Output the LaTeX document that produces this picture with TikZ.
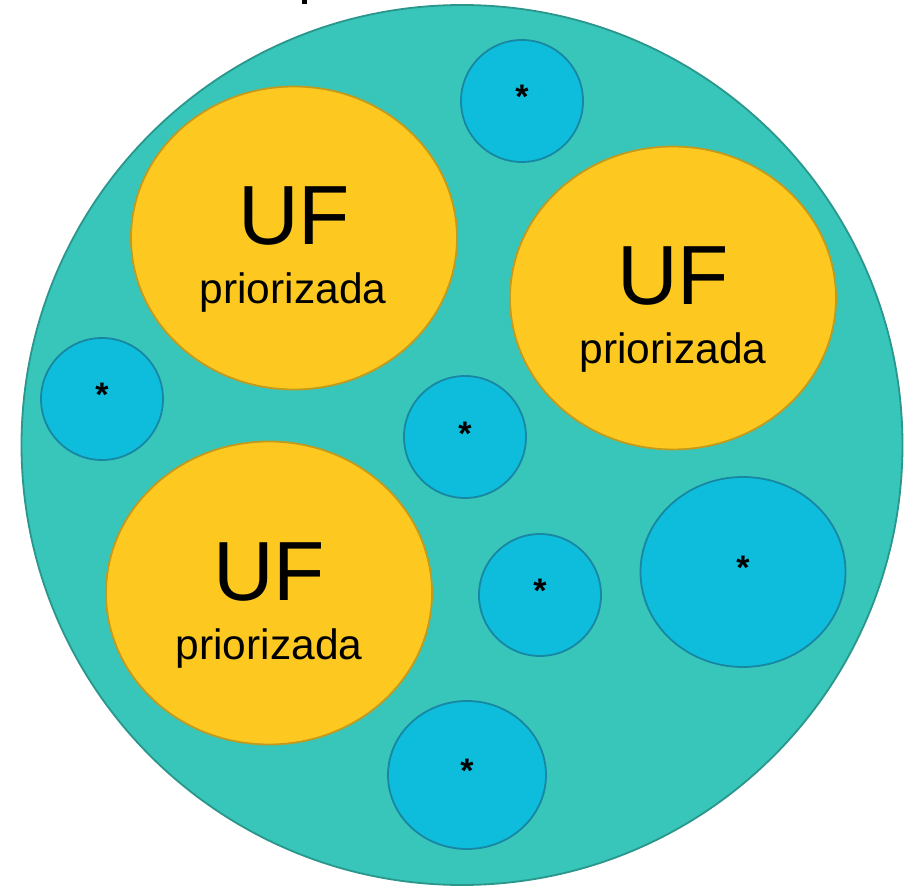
\documentclass[tikz,border=0pt]{standalone}
\usepackage{fontspec}
\setmainfont{Liberation Sans}
\usetikzlibrary{shapes.geometric}
\definecolor{tealfill}{HTML}{37C6B9}
\definecolor{tealline}{HTML}{2A968C}
\definecolor{ufill}{HTML}{FDC920}
\definecolor{uline}{HTML}{C29A1E}
\definecolor{bfill}{HTML}{0EBDDB}
\definecolor{bline}{HTML}{1787A3}
\tikzset{
  outer/.style={ellipse, fill=tealfill, draw=tealline, line width=1.8pt, inner sep=0pt},
  ufbox/.style={ellipse, fill=ufill, draw=uline, line width=1.8pt, inner sep=0pt, minimum width=326pt, minimum height=303pt},
  blob/.style={ellipse, fill=bfill, draw=bline, line width=1.8pt, inner sep=0pt},
  bigtxt/.style={anchor=base, inner sep=0pt, font=\fontsize{84}{84}\selectfont},
  smalltxt/.style={anchor=base, inner sep=0pt, font=\fontsize{42.5}{42.5}\selectfont},
  star/.style={inner sep=0pt, font=\fontsize{34}{34}\selectfont\bfseries}
}
\begin{document}
\begin{tikzpicture}[x=1pt,y=-1pt]
\useasboundingbox (0,0) rectangle (911,890);
\fill[black] (302,0) rectangle (307,4);
\node[outer, minimum width=881pt, minimum height=880pt] (big) at (462,445) {};
% yellow
\node[ufbox] (u1) at (294,238) {};
\node[ufbox] (u2) at (673,298) {};
\node[ufbox] (u3) at (269,593) {};
\node[bigtxt] (u1a) at (294,245) {UF};
\node[smalltxt] (u1b) at (293,304) {priorizada};
\node[bigtxt] (u2a) at (673,305) {UF};
\node[smalltxt] (u2b) at (673,364) {priorizada};
\node[bigtxt] (u3a) at (269,600) {UF};
\node[smalltxt] (u3b) at (269,659) {priorizada};
% blue
\node[blob, minimum width=122pt, minimum height=122pt] (b1) at (522,101) {};
\node[blob, minimum width=122pt, minimum height=122pt] (b2) at (102,399) {};
\node[blob, minimum width=122pt, minimum height=122pt] (b3) at (465,437) {};
\node[blob, minimum width=122pt, minimum height=122pt] (b4) at (540,595) {};
\node[blob, minimum width=205pt, minimum height=190pt] (b5) at (743,572) {};
\node[blob, minimum width=158pt, minimum height=148pt] (b6) at (467,775) {};
\node[star] (s1) at (522,97) {*};
\node[star] (s2) at (102,395) {*};
\node[star] (s3) at (465,434) {*};
\node[star] (s4) at (540,591) {*};
\node[star] (s5) at (743,568) {*};
\node[star] (s6) at (467,771) {*};
\end{tikzpicture}
\end{document}
